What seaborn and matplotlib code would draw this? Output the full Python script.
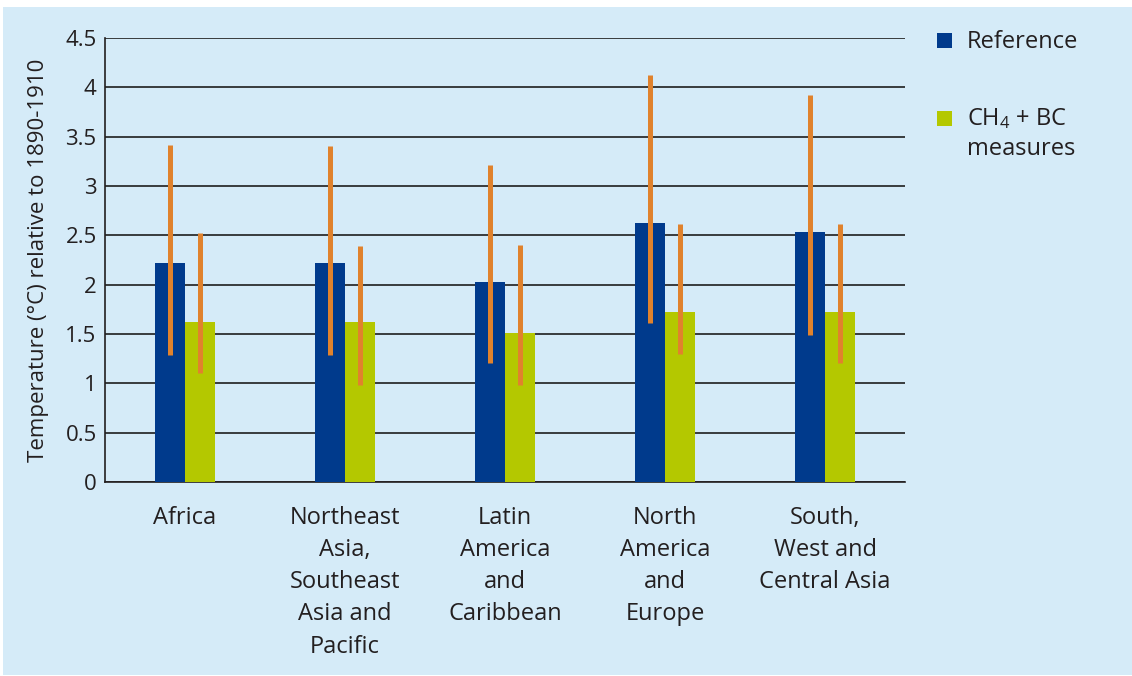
import numpy as np
import pandas as pd
import matplotlib
matplotlib.use("Agg")
import matplotlib.pyplot as plt
from matplotlib.patches import Rectangle
from matplotlib.legend_handler import HandlerPatch
from matplotlib.ticker import FixedLocator, NullFormatter
import seaborn as sns

# values
regions = [
    "Africa",
    "Northeast\nAsia,\nSoutheast\nAsia and\nPacific",
    "Latin\nAmerica\nand\nCaribbean",
    "North\nAmerica\nand\nEurope",
    "South,\nWest and\nCentral Asia",
]
scenarios = ["Reference", "CH$_4$ + BC\nmeasures"]

ref_mean = [2.22, 2.22, 2.03, 2.63, 2.53]
ref_low  = [1.29, 1.29, 1.21, 1.61, 1.49]
ref_high = [3.42, 3.41, 3.21, 4.12, 3.92]

ch4_mean = [1.62, 1.62, 1.51, 1.72, 1.72]
ch4_low  = [1.10, 0.98, 0.98, 1.30, 1.21]
ch4_high = [2.52, 2.39, 2.40, 2.61, 2.61]

y_ticks = [0, 0.5, 1, 1.5, 2, 2.5, 3, 3.5, 4, 4.5]
y_tick_labels = ["0", "0.5", "1", "1.5", "2", "2.5", "3", "3.5", "4", "4.5"]

BG     = "#d5ebf8"
BLUE   = "#003a8c"
GREEN  = "#b4c800"
ORANGE = "#e0822d"
INK    = "#231f20"

sns.set_style("white")
plt.rcParams["font.family"] = ["Open Sans", "DejaVu Sans"]
plt.rcParams["mathtext.default"] = "regular"
plt.rcParams["text.color"] = INK

df = pd.DataFrame({
    "region":   regions * 2,
    "scenario": [scenarios[0]] * len(regions) + [scenarios[1]] * len(regions),
    "temp":     ref_mean + ch4_mean,
})

fig = plt.figure(figsize=(11.32, 6.76), dpi=100, facecolor="white")
fig.patches.append(Rectangle((3 / 1132, 1 / 676), 1 - 3 / 1132, 668 / 676,
                             transform=fig.transFigure, facecolor=BG,
                             edgecolor="none", zorder=-10))
ax = fig.add_axes([105 / 1132, 194 / 676, 800 / 1132, 444 / 676])
ax.set_facecolor("none")

sns.barplot(data=df, x="region", y="temp", hue="scenario",
            palette=[BLUE, GREEN], saturation=1, width=0.375,
            errorbar=None, linewidth=0, ax=ax, zorder=3)

# low/high ranges as orange bars through the middle of each column
for cont, lows, highs in zip(ax.containers, [ref_low, ch4_low], [ref_high, ch4_high]):
    xs = [b.get_x() + b.get_width() / 2 for b in cont]
    ax.vlines(xs, lows, highs, color=ORANGE, linewidth=3.6,
              capstyle="butt", zorder=4)

ax.set_xlim(-0.5, len(regions) - 0.5)
ax.set_ylim(0, 4.5)
ax.set_yticks(y_ticks)
ax.set_yticklabels(y_tick_labels)
ax.yaxis.grid(True, color="#1e1e1e", linewidth=1.2, zorder=0)
ax.xaxis.grid(False)
ax.set_axisbelow(True)

ax.set_xticks(range(len(regions)))
ax.set_xticklabels(regions, linespacing=1.46)
ax.xaxis.set_minor_locator(FixedLocator(np.arange(-0.5, len(regions), 1.0)))
ax.xaxis.set_minor_formatter(NullFormatter())
ax.tick_params(axis="x", which="major", length=0, pad=17, labelsize=17, labelcolor=INK)
ax.tick_params(axis="x", which="minor", length=7, width=1.2, color=INK, direction="out")
ax.tick_params(axis="y", length=0, pad=6, labelsize=16, labelcolor=INK)

ax.set_xlabel("")
ax.set_ylabel("Temperature (°C) relative to 1890-1910", fontsize=16, color=INK, labelpad=12)

sns.despine(ax=ax)
for side in ["left", "bottom"]:
    ax.spines[side].set_color(INK)
    ax.spines[side].set_linewidth(1.2)


# the square of a two-line entry sits beside its first line
def raised_square(legend, orig_handle, xdescent, ydescent, width, height, fontsize):
    return Rectangle((-xdescent, -ydescent + 11.5), width, height)


old = ax.get_legend()
handles = old.legend_handles
labels = [t.get_text() for t in old.get_texts()]
old.remove()
leg = ax.legend(handles, labels, loc="upper left",
                bbox_to_anchor=(928 / 1132, 1 - 21 / 676),
                bbox_transform=fig.transFigure, frameon=False,
                fontsize=17, handlelength=0.6, handleheight=0.6,
                handletextpad=0.64, labelspacing=2.2, borderaxespad=0,
                handler_map={handles[1]: HandlerPatch(patch_func=raised_square)})
for t in leg.get_texts():
    t.set_linespacing(1.32)

fig.savefig("out.png", dpi=100, facecolor=fig.get_facecolor())
